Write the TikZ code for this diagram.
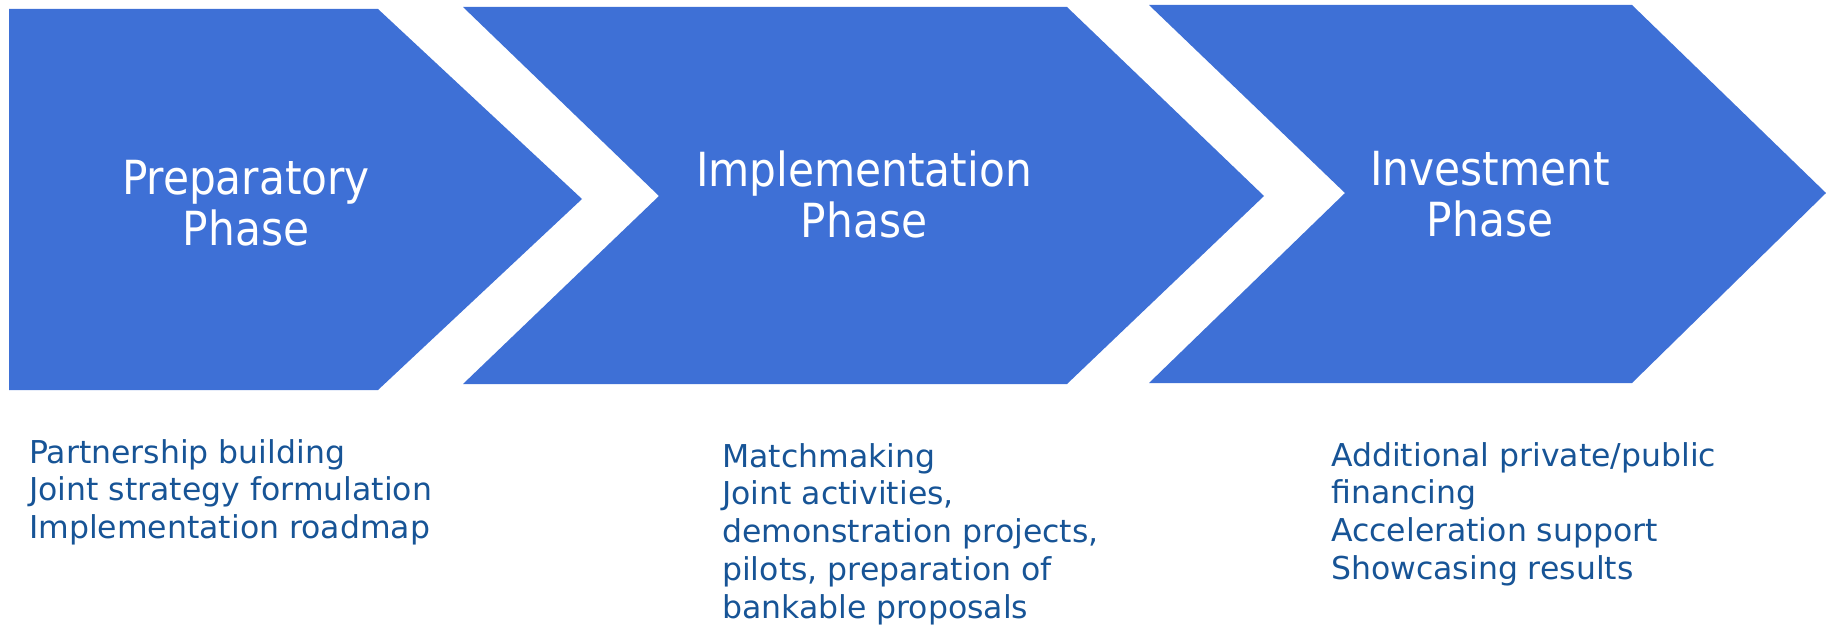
\documentclass[tikz,border=0pt]{standalone}
\usepackage{fontspec}
\setmainfont{DejaVu Sans}
\newfontfamily\condfont{DejaVu Sans Condensed}
\definecolor{chev}{RGB}{62,112,214}
\definecolor{txt}{RGB}{23,84,150}
\begin{document}
\begin{tikzpicture}[x=1pt,y=-1pt,
  chevron/.style={fill=chev,draw=none},
  phasetitle/.style={text=white,font=\condfont\fontsize{47}{51}\selectfont,align=center,inner sep=0pt,anchor=north},
  itemlist/.style={text=txt,font=\fontsize{31.5}{37.8}\selectfont,align=left,inner sep=0pt,anchor=north west}]
\useasboundingbox (0,0) rectangle (1826,626);
\fill[chevron] (9,9) -- (378,9) -- (582,199) -- (378,390) -- (9,390) -- cycle;
\fill[chevron] (463,7) -- (1067,7) -- (1264,196) -- (1067,384) -- (463,384) -- (659,196) -- cycle;
\fill[chevron] (1149,5) -- (1632,5) -- (1826,193) -- (1632,383) -- (1149,383) -- (1345,193) -- cycle;
\node[phasetitle] (t1) at (246,160) {Preparatory\\Phase};
\node[phasetitle] (t2) at (864,151) {Implementation\\Phase};
\node[phasetitle] (t3) at (1490,151) {Investment\\Phase};
\node[itemlist] (l1) at (29,439) {Partnership building\\Joint strategy formulation\\Implementation roadmap};
\node[itemlist] (l2) at (722,443) {Matchmaking\\Joint activities,\\demonstration projects,\\pilots, preparation of\\bankable proposals};
\node[itemlist] (l3) at (1331,442) {Additional private/public\\financing\\Acceleration support\\Showcasing results};
\end{tikzpicture}
\end{document}
